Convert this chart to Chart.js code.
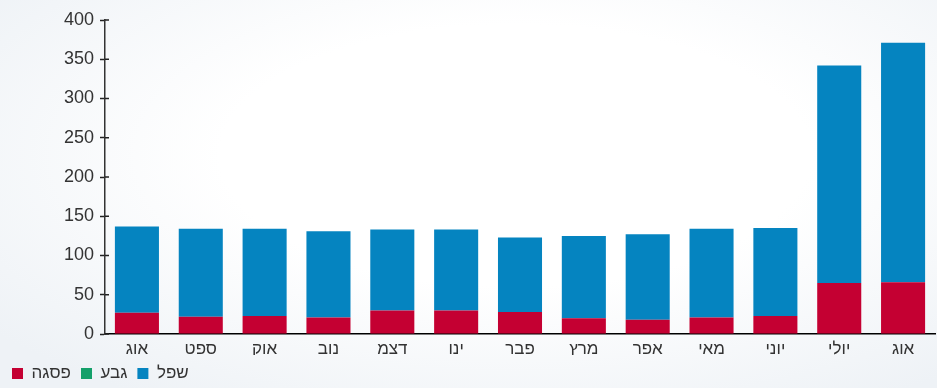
<!DOCTYPE html>
<html>
<head>
<meta charset="utf-8">
<script src="https://cdn.jsdelivr.net/npm/chart.js@4"></script>
<style>
  html, body { margin: 0; padding: 0; }
  body {
    width: 937px; height: 388px; overflow: hidden;
    background: radial-gradient(ellipse 70% 75% at 55% 40%, #ffffff 45%, #eef2f6 100%);
  }
  #wrap { position: relative; width: 937px; height: 388px; }
</style>
</head>
<body>
<div id="wrap"><canvas id="chart"></canvas></div>
<script>
const months = ['אוג', 'ספט', 'אוק', 'נוב', 'דצמ', 'ינו', 'פבר', 'מרץ', 'אפר', 'מאי', 'יוני', 'יולי', 'אוג']
const peak = [27, 22, 23, 21, 30, 30, 28, 20, 18, 21, 23, 65, 66]
const shoulder = [0, 0, 0, 0, 0, 0, 0, 0, 0, 0, 0, 0, 0]
const offPeak = [110, 112, 111, 110, 103, 103, 95, 105, 109, 113, 112, 277, 305]
const yTicks = [0, 50, 100, 150, 200, 250, 300, 350, 400]

const font = "'Liberation Sans', Arial, sans-serif"

// legend box is shorter in the original, squeeze it
const legendFit = {
  id: 'legendFit',
  beforeUpdate (chart) {
    const l = chart.legend
    if (!l || l._patched) return
    const fit = l.fit.bind(l)
    l.fit = function () { fit(); this.height = 30 }
    l._patched = true
  }
}

// major ticks cross the y axis in the original
const crossTicks = {
  id: 'crossTicks',
  afterDraw (chart) {
    const y = chart.scales.y
    const ctx = chart.ctx
    ctx.save()
    ctx.strokeStyle = '#222'
    ctx.lineWidth = 1.5
    yTicks.forEach(v => {
      const py = y.getPixelForValue(v)
      ctx.beginPath()
      ctx.moveTo(y.right, py)
      ctx.lineTo(y.right + 4, py)
      ctx.stroke()
    })
    ctx.restore()
  }
}

new Chart(document.getElementById('chart'), {
  type: 'bar',
  data: {
    labels: months,
    datasets: [
      { label: 'פסגה', data: peak, backgroundColor: '#c40032' },
      { label: 'גבע', data: shoulder, backgroundColor: '#14a06a' },
      { label: 'שפל', data: offPeak, backgroundColor: '#0584c0' }
    ]
  },
  plugins: [legendFit, crossTicks],
  options: {
    responsive: true,
    maintainAspectRatio: false,
    animation: false,
    layout: { padding: { top: 20, right: 2, left: 2, bottom: 3 } },
    datasets: { bar: { barPercentage: 0.69, categoryPercentage: 1, borderWidth: 0 } },
    plugins: {
      tooltip: { enabled: false },
      legend: {
        position: 'bottom',
        align: 'start',
        labels: {
          boxWidth: 11,
          boxHeight: 11,
          padding: 10,
          color: '#333',
          font: { family: font, size: 17 }
        }
      }
    },
    scales: {
      x: {
        stacked: true,
        afterFit: s => { s.height = 21 },
        grid: { display: false, drawTicks: false },
        border: { color: '#000', width: 1.5 },
        ticks: { color: '#333', font: { family: font, size: 17 }, padding: 5 }
      },
      y: {
        stacked: true,
        min: 0,
        max: yTicks[yTicks.length - 1],
        afterFit: s => { s.width = 103 },
        border: { color: '#333', width: 1.5 },
        grid: {
          drawOnChartArea: false,
          tickLength: 5,
          tickWidth: 1.5,
          tickColor: c => (c.tick && c.tick.value % 50 === 0) ? '#222' : '#ff1a1a'
        },
        ticks: {
          stepSize: 25,
          color: '#333',
          padding: 6,
          font: { family: font, size: 18 },
          callback: v => yTicks.includes(v) ? v : ''
        }
      }
    }
  }
})
</script>
</body>
</html>
